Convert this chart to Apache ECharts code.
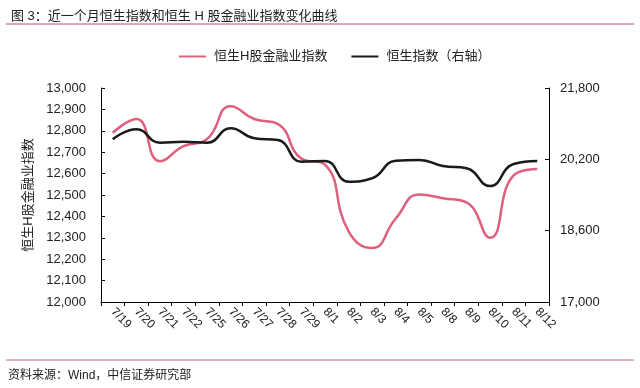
<!DOCTYPE html>
<html><head><meta charset="utf-8">
<script src="https://cdn.jsdelivr.net/npm/echarts@6/dist/echarts.min.js"></script>
<style>html,body{margin:0;padding:0;background:#fff}#c{width:640px;height:388px}</style>
</head><body><div id="c"></div>
<script>
const categories = ['7/19','7/20','7/21','7/22','7/25','7/26','7/27','7/28','7/29','8/1','8/2','8/3','8/4','8/5','8/8','8/9','8/10','8/11','8/12'];
const hshFinance = [12791,12855,12658,12728,12762,12915,12855,12832,12670,12642,12330,12252,12390,12502,12485,12465,12300,12592,12622];
const hsi = [20650,20874,20574,20596,20574,20896,20672,20634,20147,20163,19700,19775,20170,20185,20050,20000,19600,20095,20163];
const leftTicks = {min:12000, max:13000, interval:100};
const rightTicks = {min:17000, max:21800, interval:1600};
const seriesNames = ['恒生H股金融业指数','恒生指数（右轴）'];
const titleText = '图 3：近一个月恒生指数和恒生 H 股金融业指数变化曲线';
const sourceText = '资料来源：Wind，中信证券研究部';
const yName = '恒生H股金融业指数';

const FONT = '"Liberation Sans", Arial, "Noto Sans CJK SC", sans-serif';
const fmt = v => v.toLocaleString('en-US');
const chart = echarts.init(document.getElementById('c'), null, {renderer:'canvas'});
chart.setOption({
  animation:false,
  backgroundColor:'#fff',
  textStyle:{fontFamily:FONT},
  title:{text:titleText, left:6, top:5, textStyle:{fontSize:13, fontWeight:'normal', color:'#222', fontFamily:FONT}},
  graphic:[
    {type:'line', shape:{x1:6,y1:24,x2:634,y2:24}, style:{stroke:'#c0506a', lineWidth:1}},
    {type:'line', shape:{x1:6,y1:360,x2:634,y2:360}, style:{stroke:'#b86474', lineWidth:1}},
    {type:'text', left:8, top:370, style:{text:sourceText, fontSize:12, fill:'#222', fontFamily:FONT}}
  ],
  legend:{top:45, left:174, itemWidth:27, itemHeight:2, itemGap:24, icon:'rect',
    textStyle:{fontSize:13, color:'#222', fontFamily:FONT, padding:[0,0,0,3]}, data:seriesNames},
  grid:{left:101, right:91, top:88, bottom:86, containLabel:false},
  xAxis:{type:'category', data:categories, boundaryGap:true,
    axisLine:{lineStyle:{color:'#000', width:1}},
    axisTick:{show:true, inside:false, length:4, alignWithLabel:false, lineStyle:{color:'#000'}},
    axisLabel:{rotate:-45, fontSize:12, color:'#222', margin:8, interval:0, fontFamily:FONT}},
  yAxis:[
    {type:'value', min:leftTicks.min, max:leftTicks.max, interval:leftTicks.interval,
      name:yName, nameLocation:'middle', nameGap:58, nameRotate:90,
      nameTextStyle:{fontSize:13, color:'#222', fontFamily:FONT},
      axisLine:{show:true, lineStyle:{color:'#000'}},
      axisTick:{show:true, inside:true, length:4, lineStyle:{color:'#000'}},
      splitLine:{show:false},
      axisLabel:{formatter:fmt, fontSize:13, color:'#222', margin:15, fontFamily:FONT}},
    {type:'value', min:rightTicks.min, max:rightTicks.max, interval:rightTicks.interval, position:'right',
      axisLine:{show:true, lineStyle:{color:'#000'}},
      axisTick:{show:true, inside:true, length:4, lineStyle:{color:'#000'}},
      splitLine:{show:false},
      axisLabel:{formatter:fmt, fontSize:13, color:'#222', margin:11, fontFamily:FONT}}
  ],
  series:[
    {name:seriesNames[0], type:'line', yAxisIndex:0, data:hshFinance, smooth:0.5, symbol:'none',
      lineStyle:{color:'#e0607c', width:2.5}, itemStyle:{color:'#e0607c'}},
    {name:seriesNames[1], type:'line', yAxisIndex:1, data:hsi, smooth:0.5, symbol:'none',
      lineStyle:{color:'#1a1a1a', width:2.5}, itemStyle:{color:'#1a1a1a'}}
  ]
});
</script></body></html>
